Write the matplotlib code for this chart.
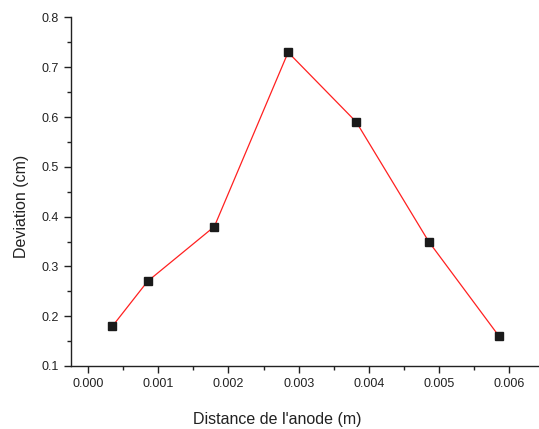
import matplotlib
matplotlib.use("Agg")
import matplotlib.pyplot as plt
from matplotlib.ticker import MultipleLocator

plt.rcParams['font.family'] = ['Liberation Sans', 'DejaVu Sans']

# data
distance = [0.00035, 0.00085, 0.0018, 0.00285, 0.00382, 0.00485, 0.00585]
deviation = [0.18, 0.27, 0.38, 0.73, 0.59, 0.35, 0.16]

fig = plt.figure(figsize=(5.39, 4.29), dpi=100)
ax = fig.add_axes([0.1317, 0.1469, 0.8683, 0.8124])

ax.plot(distance, deviation, color='#ff2020', lw=0.9, marker='s', markersize=6,
        markerfacecolor='#1a1a1a', markeredgecolor='#1a1a1a')

ax.set_xlim(-0.00024, 0.00642)
ax.set_ylim(0.1, 0.8)
ax.xaxis.set_major_locator(MultipleLocator(0.001))
ax.xaxis.set_minor_locator(MultipleLocator(0.0005))
ax.yaxis.set_major_locator(MultipleLocator(0.1))
ax.yaxis.set_minor_locator(MultipleLocator(0.05))
ax.xaxis.set_major_formatter(plt.FormatStrFormatter('%.3f'))
ax.yaxis.set_major_formatter(plt.FormatStrFormatter('%.1f'))

for s in ['top', 'right']:
    ax.spines[s].set_visible(False)
for s in ['left', 'bottom']:
    ax.spines[s].set_linewidth(1.0)
    ax.spines[s].set_color('#222222')

ax.tick_params(which='major', direction='out', length=5, width=1, labelsize=9, colors='#222222')
ax.tick_params(which='minor', direction='out', length=3, width=1, colors='#222222')

ax.set_xlabel("Distance de l'anode (m)", fontsize=11.5, color='#222222')
ax.set_ylabel("Deviation (cm)", fontsize=11.5, color='#222222')
ax.xaxis.set_label_coords(0.44, -0.133)
ax.yaxis.set_label_coords(-0.09, 0.459)

fig.savefig("out.png", dpi=100)
